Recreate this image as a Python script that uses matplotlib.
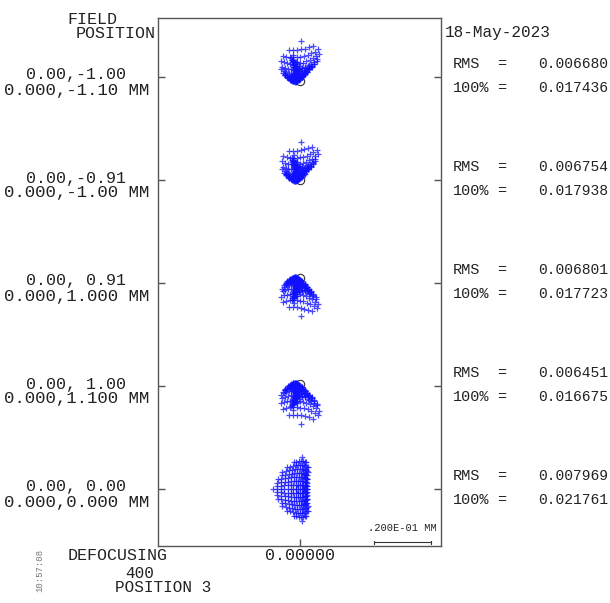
import numpy as np
import matplotlib
matplotlib.use("Agg")
import matplotlib.pyplot as plt

# field labels and spot statistics (mm)
field_deg = ["0.00,-1.00", "0.00,-0.91", "0.00, 0.91", "0.00, 1.00", "0.00, 0.00"]
field_mm = ["0.000,-1.10 MM", "0.000,-1.00 MM", "0.000,1.000 MM",
            "0.000,1.100 MM", "0.000,0.000 MM"]
rms = ["0.006680", "0.006754", "0.006801", "0.006451", "0.007969"]
r100 = ["0.017436", "0.017938", "0.017723", "0.016675", "0.021761"]

# ray aberration coefficients per field (microns), terms: 1, x, y, x^2, xy, y^2, x^2 y
ex_coef = [
    [-0.9, 4.21, 1.40, 0.0, 7.72, 0.0, 0.0],
    [-0.9, 3.86, 1.23, 0.0, 7.37, 0.0, 0.0],
    [-0.9, 4.04, 1.23, 0.0, 7.37, 0.0, 0.0],
    [-0.9, 4.21, 1.40, 0.0, 7.72, 0.0, 0.0],
    [-0.70, 5.96, 0.0, -2.81, 0.0, 1.40, 0.0],
]
ey_coef = [
    [0.0, 1.75, 2.46, 3.86, 0.0, 11.58, 0.0],
    [0.0, 1.75, 2.28, 3.68, 0.0, 11.05, 0.0],
    [0.0, -1.75, -2.28, -3.68, 0.0, -11.05, 0.0],
    [0.0, -1.75, -2.46, -3.86, 0.0, -11.58, 0.0],
    [0.0, 0.0, 11.2, 0.0, 0.0, 0.0, -2.81],
]
chief_dy = [-1.3, 0.0, 1.75, 0.8, 0.0]   # chief ray vs. field reference (microns)

W, H = 610, 603
PXMM = 2850.0                      # pixels per mm on the plot
field_y = [(546 - (77 + 103 * i)) / PXMM for i in range(5)]


def px(x, y):
    return x / W, 1 - y / H


fig = plt.figure(figsize=(W / 100, H / 100), dpi=100)
ax = fig.add_axes([158 / W, 1 - 546 / H, (441 - 158) / W, (546 - 18) / H])
ax.set_xlim(-142 / PXMM, 141 / PXMM)
ax.set_ylim(0, 528 / PXMM)
for s in ax.spines.values():
    s.set_color("#555555")
    s.set_linewidth(1.0)
ax.set_yticks(field_y)
ax.set_xticks([0.0])
ax.tick_params(direction="in", length=5, width=1.0, color="#555555",
               left=True, right=True, top=False, bottom=True,
               labelleft=False, labelbottom=False)

# pupil sampling grid
g = np.arange(-8, 9) / 8.0
px_, py_ = np.meshgrid(g, g)
keep = px_ ** 2 + py_ ** 2 <= 1.0 + 1e-9
u, v = px_[keep], py_[keep]
terms = np.vstack([np.ones_like(u), u, v, u ** 2, u * v, v ** 2, u ** 2 * v])

for i in range(5):
    ex = np.dot(ex_coef[i], terms) / 1000.0
    ey = np.dot(ey_coef[i], terms) / 1000.0
    yc = field_y[i] + chief_dy[i] / 1000.0
    ax.plot([0], [yc], "o", ms=6, mfc="none", mec="#333333", mew=0.8, zorder=1)
    ax.plot(ex, yc + ey, "+", ms=4, mew=0.9, color="#1010ff", alpha=0.75, zorder=2)

# scale bar 0.02 mm
x0, x1 = 74 / PXMM, 74 / PXMM + 0.02
yb = 4 / PXMM
ax.plot([x0, x1], [yb, yb], color="#333333", lw=0.8)
ax.plot([x0, x0], [yb - 1.5 / PXMM, yb + 1.5 / PXMM], color="#333333", lw=0.8)
ax.plot([x1, x1], [yb - 1.5 / PXMM, yb + 1.5 / PXMM], color="#333333", lw=0.8)

mono = "Liberation Mono"
col = "#222222"
fig.text(*px(437, 528), ".200E-01 MM", family=mono, size=7.5, color=col,
         ha="right", va="center")

fig.text(*px(92, 19), "FIELD", family=mono, size=12, color=col, ha="center", va="center")
fig.text(*px(116, 33), "POSITION", family=mono, size=12, color=col, ha="center", va="center")
fig.text(*px(445, 33), "18-May-2023", family=mono, size=11.5, color=col,
         ha="left", va="center")

for i in range(5):
    t = 77 + 103 * i
    fig.text(*px(76, t - 2), field_deg[i], family=mono, size=12, color=col,
             ha="center", va="center")
    fig.text(*px(77, t + 13), field_mm[i], family=mono, size=12.5, color=col,
             ha="center", va="center")
    fig.text(*px(453, t - 13), "RMS", family=mono, size=11, color=col, va="center")
    fig.text(*px(497, t - 13), "=", family=mono, size=11, color=col, va="center")
    fig.text(*px(608, t - 13), rms[i], family=mono, size=10.5, color=col,
             ha="right", va="center")
    fig.text(*px(453, t + 11), "100%", family=mono, size=11, color=col, va="center")
    fig.text(*px(497, t + 11), "=", family=mono, size=11, color=col, va="center")
    fig.text(*px(608, t + 11), r100[i], family=mono, size=10.5, color=col,
             ha="right", va="center")

fig.text(*px(300, 555), "0.00000", family=mono, size=12, color=col,
         ha="center", va="center")
fig.text(*px(68, 555), "DEFOCUSING", family=mono, size=12, color=col,
         ha="left", va="center")
fig.text(*px(140, 573), "400", family=mono, size=11.5, color=col,
         ha="center", va="center")
fig.text(*px(115, 588), "POSITION 3", family=mono, size=11.5, color=col,
         ha="left", va="center")
fig.text(*px(40, 571), "10:57:08", family=mono, size=6.5, color="#777777",
         rotation=90, ha="center", va="center")

fig.savefig("out.png", dpi=100)
